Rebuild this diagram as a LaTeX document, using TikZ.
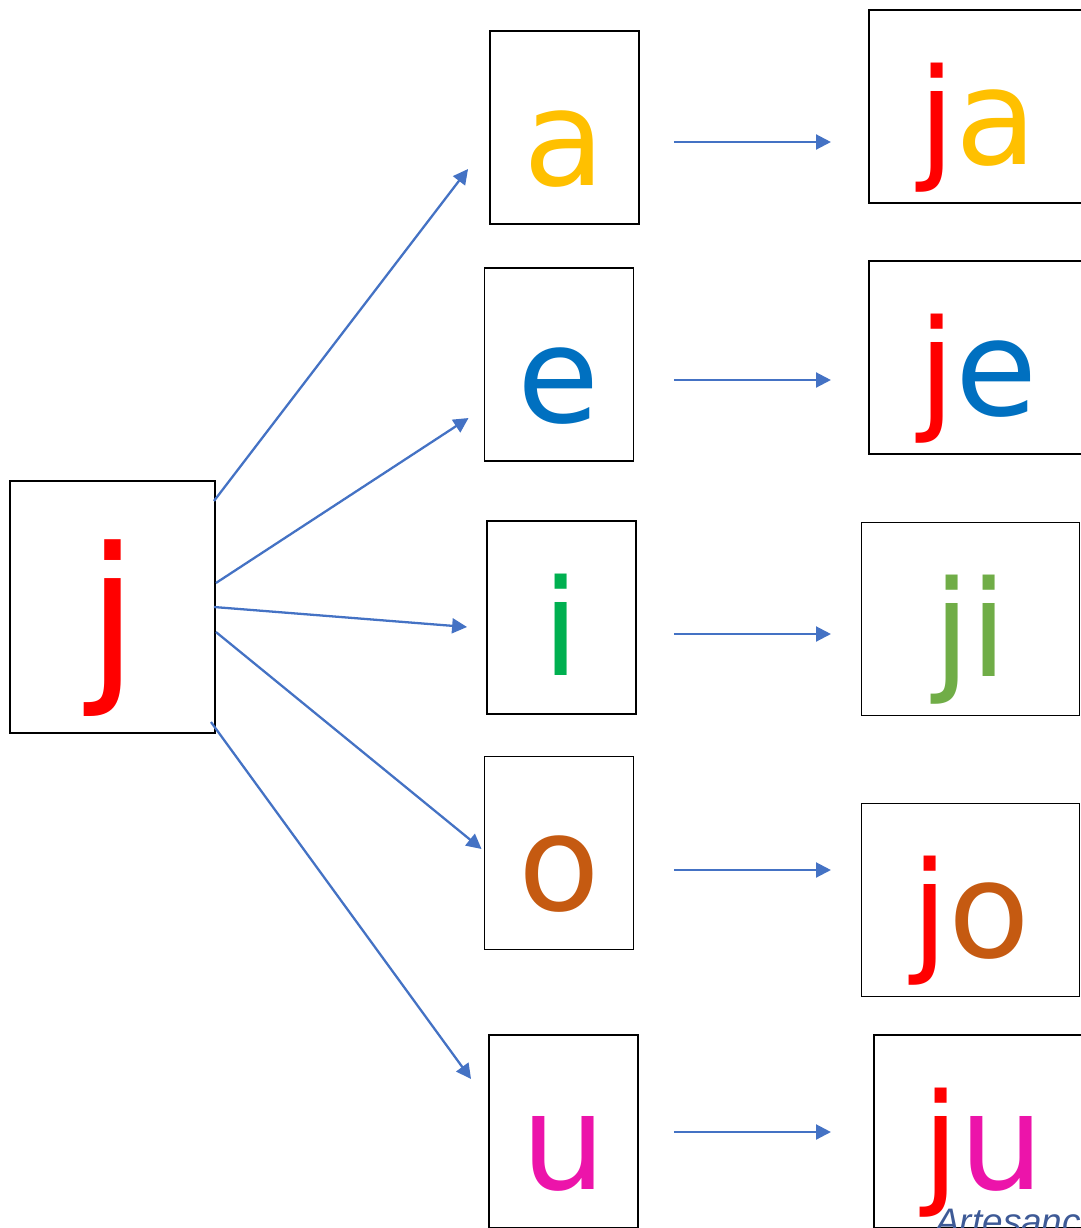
\documentclass[tikz,border=0pt]{standalone}
\usepackage{fontspec}
\setmainfont{DejaVu Sans}
\newfontfamily\markfont{Liberation Sans}
\usetikzlibrary{arrows.meta,calc}
\definecolor{jred}{RGB}{255,0,0}
\definecolor{agold}{RGB}{255,192,0}
\definecolor{eblue}{RGB}{0,112,192}
\definecolor{igreen}{RGB}{0,176,80}
\definecolor{jigreen}{RGB}{112,173,71}
\definecolor{obrown}{RGB}{197,90,17}
\definecolor{upink}{RGB}{236,20,170}
\definecolor{arrowblue}{RGB}{68,114,196}
\definecolor{markblue}{RGB}{62,90,150}

\begin{document}
\begin{tikzpicture}[x=0.02cm,y=-0.02cm,
  box/.style={draw,line width=1.1pt,inner sep=0pt,text height=65.8pt,text depth=0pt,
    font=\fontsize{76}{84}\selectfont},
  vowel/.style={box,minimum width=2.98cm,minimum height=3.86cm},
  syll/.style={box,minimum width=4.36cm,minimum height=3.86cm},
  conn/.style={arrowblue,line width=1.3pt,-{Triangle[length=8.5pt,width=8.5pt]}}]
\path[use as bounding box,clip] (0,0) rectangle (1081,1228);

% consonant
\node[box,minimum width=4.1cm,minimum height=5.04cm,text height=81.6pt,
  font=\fontsize{104}{110}\selectfont,text=jred] (j) at (112.5,607) {j};

% vowels
\node[vowel,text=agold]  (a) at (564.5,127.5) {a};
\node[vowel,text=eblue]  (e) at (559,364.5)   {e};
\node[vowel,text=igreen] (i) at (561.5,617.5) {i};
\node[vowel,text=obrown] (o) at (559,853)     {o};
\node[vowel,text=upink]  (u) at (563.5,1131.5) {u};

% syllables
\node[syll] (ja) at (978,106.5)   {\textcolor{jred}{j}\textcolor{agold}{a}};
\node[syll] (je) at (978,357.5)   {\textcolor{jred}{j}\textcolor{eblue}{e}};
\node[syll,text=jigreen] (ji) at (970.5,619) {ji};
\node[syll] (jo) at (970.5,900)   {\textcolor{jred}{j}\textcolor{obrown}{o}};
\node[syll] (ju) at (983,1131.5)  {\textcolor{jred}{j}\textcolor{upink}{u}};

\node[anchor=base west,inner sep=0pt,text=markblue,
  font=\markfont\itshape\fontsize{21}{24}\selectfont] (mark) at (935,1234) {Artesanc};

% j to each vowel
\foreach \v/\sx/\sy/\ex/\ey in {a/-2/-106/-21/41.5, e/0/-24/-15/53.5, i/-2/0/-19/9.5,
    o/0/25/-2/-4, u/-5/115/-17/-52.5}
  \draw[conn] ([shift={(\sx,\sy)}]j.east) -- ([shift={(\ex,\ey)}]\v.west);

% vowel to syllable
\foreach \v/\dy in {a/14.5, e/15.5, i/16.5, o/17, u/0.5}
  \draw[conn] ($(\v.east -| a.east)+(34,\dy)$) -- ++(157,0);
\end{tikzpicture}
\end{document}
